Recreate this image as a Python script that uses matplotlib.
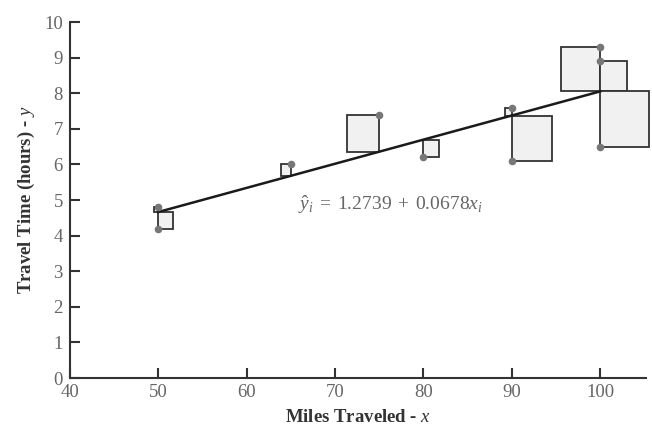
import matplotlib
matplotlib.use("Agg")
import matplotlib.pyplot as plt
from matplotlib.patches import Rectangle
import numpy as np

miles = [100, 50, 100, 100, 50, 80, 75, 65, 90, 90]
hours = [9.3, 4.8, 8.9, 6.5, 4.2, 6.2, 7.4, 6.0, 7.6, 6.1]
b0, b1 = 1.2739, 0.0678
xticks = [40, 50, 60, 70, 80, 90, 100]
yticks = list(range(0, 11))

plt.rcParams['font.family'] = ['Liberation Serif', 'DejaVu Serif']
plt.rcParams['mathtext.fontset'] = 'custom'
plt.rcParams['mathtext.rm'] = 'Liberation Serif'
plt.rcParams['mathtext.it'] = 'Liberation Serif:italic'
plt.rcParams['mathtext.bf'] = 'Liberation Serif:bold'

fig = plt.figure(figsize=(6.52, 4.34), dpi=100)
ax = fig.add_axes([0.107, 0.129, 0.884, 0.820])
xmin, xmax, ymin, ymax = 40, 105.2, 0, 10
ax.set_xlim(xmin, xmax)
ax.set_ylim(ymin, ymax)

# pixel scale for squares
axw = 0.884 * 652
axh = 0.820 * 434
px_x = axw / (xmax - xmin)
px_y = axh / (ymax - ymin)

# squares for residuals
left_used = set()
for x, y in zip(miles, hours):
    yh = b0 + b1 * x
    r = y - yh
    side = abs(r)
    w = 0.88 * side * px_y / px_x
    if r > 0 and x not in left_used:
        x0 = x - w
        left_used.add(x)
    else:
        x0 = x
    ax.add_patch(Rectangle((x0, min(y, yh)), w, side, facecolor='#f1f1f1',
                           edgecolor='#333333', lw=1.3, zorder=2, clip_on=False))

xl = np.array([50, 100])
ax.plot(xl, b0 + b1 * xl, color='#1a1a1a', lw=1.8, zorder=3)
ax.scatter(miles, hours, s=30, color='#777777', zorder=4, linewidths=0, clip_on=False)

ax.text(65.8, 4.86, r'$\hat{y}_i\;=\;1.2739\;+\;0.0678x_i$', color='#666666',
        fontsize=14, va='center', ha='left')

for s in ['top', 'right']:
    ax.spines[s].set_visible(False)
for s in ['left', 'bottom']:
    ax.spines[s].set_color('#333333')
    ax.spines[s].set_linewidth(1.5)

ax.set_xticks(xticks)
ax.set_yticks(yticks)
ax.tick_params(direction='in', length=7, width=1.5, color='#333333',
               labelsize=13.5, labelcolor='#666666')
ax.tick_params(axis='y', pad=5)
ax.tick_params(axis='x', pad=4)
ax.set_xlabel('Miles Traveled - $\\mathit{x}$', fontsize=13.5, fontweight='bold',
              color='#333333', labelpad=6)
ax.set_ylabel('Travel Time (hours) - $\\mathit{y}$', fontsize=13.5, fontweight='bold',
              color='#333333', labelpad=5)

fig.savefig('out.png', dpi=100)
